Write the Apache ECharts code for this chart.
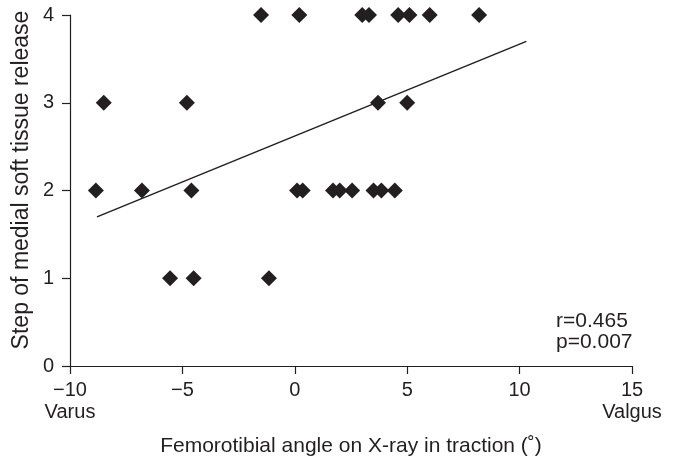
<!DOCTYPE html>
<html>
<head>
<meta charset="utf-8">
<script src="https://cdn.jsdelivr.net/npm/echarts@6/dist/echarts.min.js"></script>
<style>
  html, body { margin: 0; padding: 0; background: #fff; }
  #chart { width: 678px; height: 463px; }
</style>
</head>
<body>
<div id="chart"></div>
<script>
// femorotibial angle (deg) vs step of release
const angles4 = [-1.5, 0.2, 3.0, 3.3, 4.6, 5.1, 6.0, 8.2];
const angles3 = [-8.5, -4.8, 3.7, 5.0];
const angles2 = [-8.85, -6.8, -4.6, 0.1, 0.35, 1.7, 2.0, 2.55, 3.5, 3.85, 4.45];
const angles1 = [-5.55, -4.5, -1.15];
const fitLine = [[-8.8, 1.70], [10.3, 3.70]];
const stats = ['r=0.465', 'p=0.007'];

const ink = '#231f20';
const font = 'Liberation Sans, Arial, sans-serif';

const points = [];
[[angles1, 1], [angles2, 2], [angles3, 3], [angles4, 4]].forEach(function (g) {
    g[0].forEach(function (x) { points.push([x, g[1]]); });
});

const chart = echarts.init(document.getElementById('chart'), null, { renderer: 'canvas' });

const option = {
    animation: false,
    grid: { left: 70, right: 46, top: 15, bottom: 97 },
    xAxis: {
        type: 'value',
        min: -10, max: 15, interval: 5,
        name: 'Femorotibial angle on X-ray in traction (\u02da)',
        nameLocation: 'middle',
        nameGap: 70,
        nameTextStyle: { color: ink, fontSize: 21, fontFamily: font },
        splitLine: { show: false },
        axisLine: { onZero: false, lineStyle: { color: ink, width: 1.2 } },
        axisTick: { length: 8, lineStyle: { color: ink, width: 1.2 } },
        axisLabel: {
            color: ink, fontSize: 20, fontFamily: font, margin: 13, lineHeight: 22,
            formatter: function (v) {
                let s = String(v).replace('-', '\u2212');
                if (v === -10) s += '\nVarus';
                if (v === 15) s += '\nValgus';
                return s;
            }
        }
    },
    yAxis: {
        type: 'value',
        min: 0, max: 4, interval: 1,
        splitLine: { show: false },
        axisLine: { show: true, onZero: false, lineStyle: { color: ink, width: 1.2 } },
        axisTick: { show: true, length: 8, lineStyle: { color: ink, width: 1.2 } },
        axisLabel: { color: ink, fontSize: 20, fontFamily: font, margin: 16 }
    },
    graphic: [
        {
            type: 'text',
            x: 22,
            y: 180,
            rotation: Math.PI / 2,
            style: {
                text: 'Step of medial soft tissue release',
                fill: ink,
                font: '23px ' + font,
                align: 'center',
                verticalAlign: 'middle'
            }
        },
        {
            type: 'text',
            left: 556,
            top: 311,
            style: {
                text: stats.join('\n'),
                fill: ink,
                font: '21px ' + font,
                lineHeight: 21
            }
        }
    ],
    series: [
        {
            type: 'scatter',
            data: points,
            symbol: 'diamond',
            symbolSize: 16,
            itemStyle: { color: ink, opacity: 1 }
        },
        {
            type: 'line',
            data: fitLine,
            showSymbol: false,
            lineStyle: { color: ink, width: 1.5 },
            z: 1
        }
    ]
};

chart.setOption(option);
</script>
</body>
</html>
